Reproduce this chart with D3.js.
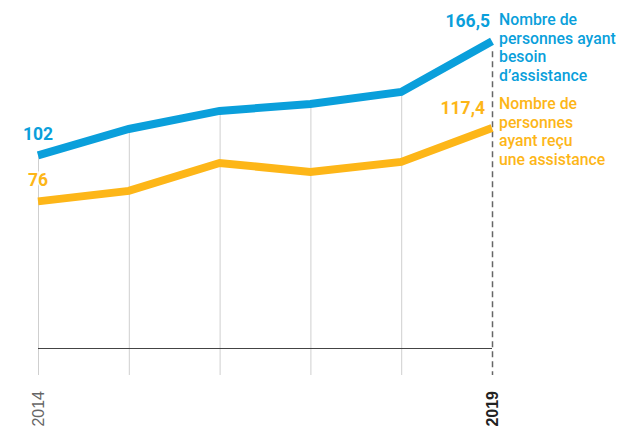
<!DOCTYPE html>
<html lang="fr">
<head>
<meta charset="utf-8">
<script src="https://cdn.jsdelivr.net/npm/d3@7"></script>
<style>
	body { margin: 0; background: #fff; }
	svg { display: block; }
	.serieslabel { font-family: Roboto, "Noto Sans", sans-serif; font-size: 17px; font-weight: 500; }
	.valuelabel { font-family: Roboto, "Noto Sans", sans-serif; font-size: 17.5px; font-weight: 700; }
	.ticklabel { font-family: "Liberation Sans", Arial, sans-serif; font-size: 16px; }
</style>
</head>
<body>
<div id="graphic"></div>
<script>
// data (millions de personnes)
const years = [2014, 2015, 2016, 2017, 2018, 2019];
const needAssistance = [102, 116.9, 127.1, 131, 137.8, 166.5];
const receivedAssistance = [76, 81.9, 97.7, 92.6, 98.3, 117.4];
const tickLabels = ['2014', '', '', '', '', '2019'];
const seriesNames = [
	['Nombre de', 'personnes ayant', 'besoin', 'd\u2019assistance'],
	['Nombre de', 'personnes', 'ayant reçu', 'une assistance']
];
const valueLabels = [['102', '166,5'], ['76', '117,4']];

const colours = ['#0a9fdb', '#fdb618'];
const width = 621, height = 433;
const plotBottom = 348, gridBottom = 375;

const svg = d3.select('#graphic')
	.append('svg')
	.attr('width', width)
	.attr('height', height);

const x = d3.scalePoint()
	.domain(years)
	.range([38, 492]);

const y = d3.scaleLinear()
	.domain([0, 170])
	.range([335.9, 35]);

const series = [needAssistance, receivedAssistance];

// vertical gridlines, from the top line down
svg.append('g')
	.selectAll('line')
	.data(years.slice(0, -1))
	.join('line')
	.attr('x1', d => x(d) + 0.5)
	.attr('x2', d => x(d) + 0.5)
	.attr('y1', (d, i) => y(needAssistance[i]))
	.attr('y2', gridBottom)
	.attr('stroke', '#cfcfcf')
	.attr('stroke-width', 1);

// dashed line on the last year
const last = years[years.length - 1];
svg.append('line')
	.attr('x1', x(last) + 0.5)
	.attr('x2', x(last) + 0.5)
	.attr('y1', y(needAssistance[needAssistance.length - 1]) + 10)
	.attr('y2', gridBottom)
	.attr('stroke', '#666')
	.attr('stroke-width', 1.5)
	.attr('stroke-dasharray', '6,4');

// baseline
svg.append('line')
	.attr('x1', x(years[0]))
	.attr('x2', x(last))
	.attr('y1', plotBottom + 0.5)
	.attr('y2', plotBottom + 0.5)
	.attr('stroke', '#444')
	.attr('stroke-width', 1.2);

// lines
const line = d3.line()
	.x((d, i) => x(years[i]))
	.y(d => y(d));

svg.append('g')
	.selectAll('path')
	.data(series)
	.join('path')
	.attr('d', d => line(d))
	.attr('fill', 'none')
	.attr('stroke', (d, i) => colours[i])
	.attr('stroke-width', 8)
	.attr('stroke-linejoin', 'miter');

// first value labels, above the start point
svg.append('g')
	.selectAll('text')
	.data(series)
	.join('text')
	.attr('class', 'valuelabel')
	.attr('x', x(years[0]))
	.attr('y', d => y(d[0]) - 15)
	.attr('text-anchor', 'middle')
	.attr('fill', (d, i) => colours[i])
	.attr('stroke', '#fff')
	.attr('stroke-width', 3)
	.attr('paint-order', 'stroke')
	.text((d, i) => valueLabels[i][0]);

// last value labels
svg.append('g')
	.selectAll('text')
	.data(series)
	.join('text')
	.attr('class', 'valuelabel')
	.attr('x', (d, i) => x(last) - 2 - i * 5)
	.attr('y', d => y(d[d.length - 1]) - 14)
	.attr('text-anchor', 'end')
	.attr('fill', (d, i) => colours[i])
	.text((d, i) => valueLabels[i][1]);

// series names (condensed look)
const blockTop = [25.5, 109.5];
svg.append('g')
	.selectAll('g')
	.data(seriesNames)
	.join('g')
	.attr('transform', 'translate(' + (x(last) + 7) + ',0) scale(0.93,1)')
	.append('text')
	.attr('class', 'serieslabel')
	.attr('fill', (d, i) => colours[i])
	.attr('y', (d, i) => blockTop[i])
	.selectAll('tspan')
	.data(d => d)
	.join('tspan')
	.attr('x', 0)
	.attr('dy', (d, i) => i === 0 ? 0 : 18.5)
	.text(d => d);

// x axis tick labels, rotated
svg.append('g')
	.selectAll('text')
	.data(years)
	.join('text')
	.attr('class', 'ticklabel')
	.attr('transform', d => 'translate(' + x(d) + ',391) rotate(-90)')
	.attr('dy', '0.35em')
	.attr('text-anchor', 'end')
	.attr('fill', (d, i) => i === years.length - 1 ? '#222' : '#666')
	.style('font-weight', (d, i) => i === years.length - 1 ? 700 : 400)
	.text((d, i) => tickLabels[i]);
</script>
</body>
</html>
